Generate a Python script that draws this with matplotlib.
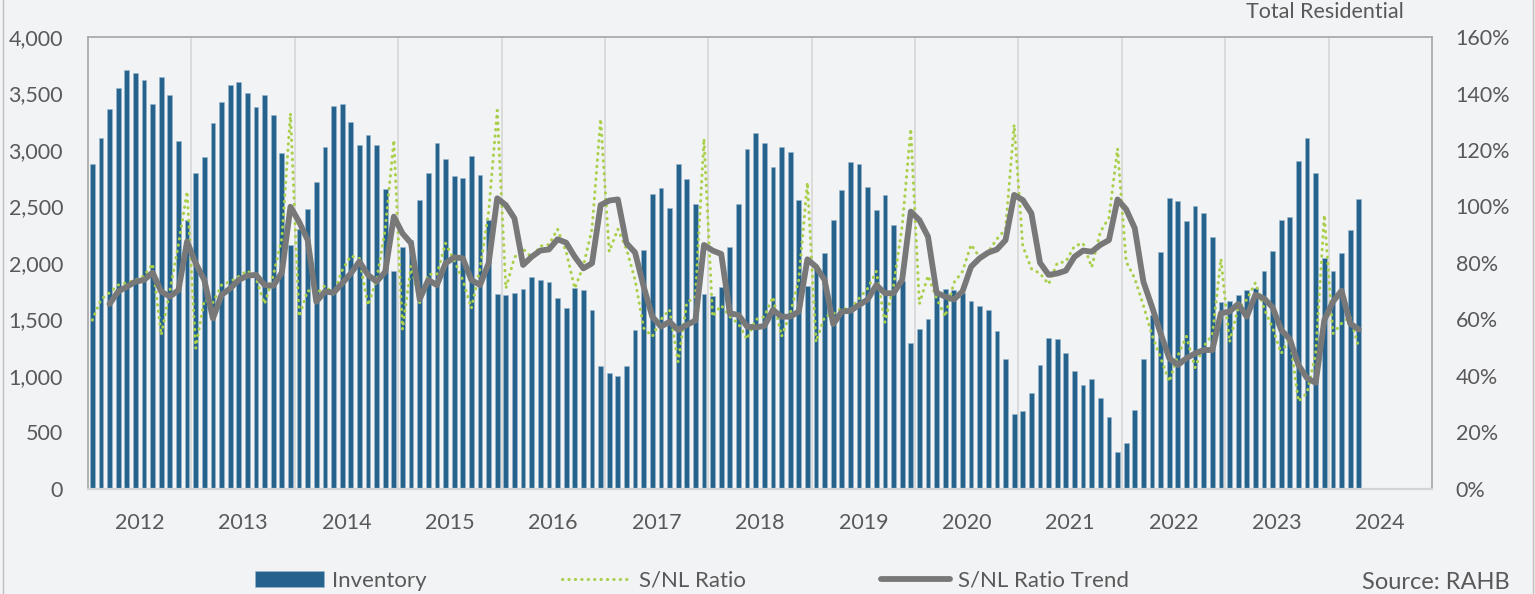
import numpy as np
import matplotlib
matplotlib.use("Agg")
import matplotlib.pyplot as plt
from matplotlib.lines import Line2D
from matplotlib.ticker import FuncFormatter

# Monthly inventory, Jan 2012 - Apr 2024
inventory = [
    2873, 3106, 3363, 3549, 3708, 3679, 3619, 3410, 3643, 3487, 3080, 2381,  # 2012
    2794, 2941, 3242, 3422, 3578, 3605, 3502, 3381, 3487, 3310, 2970, 2159,  # 2013
    2300, 2478, 2717, 3029, 3389, 3404, 3245, 3041, 3136, 3044, 2652, 1929,  # 2014
    2145, 2204, 2558, 2794, 3065, 2920, 2770, 2752, 2950, 2776, 2378, 1722,  # 2015
    1717, 1738, 1767, 1873, 1850, 1835, 1690, 1599, 1776, 1761, 1584, 1086,  # 2016
    1024, 997, 1088, 1410, 2118, 2608, 2661, 2484, 2876, 2741, 2522, 1726,   # 2017
    1711, 1790, 2139, 2519, 3006, 3153, 3059, 2852, 3027, 2982, 2558, 1796,  # 2018
    1982, 2088, 2383, 2643, 2894, 2876, 2670, 2466, 2602, 2336, 1840, 1292,  # 2019
    1416, 1504, 1750, 1770, 1764, 1732, 1664, 1622, 1584, 1401, 1150, 661,   # 2020
    693, 852, 1097, 1333, 1324, 1204, 1041, 920, 971, 802, 640, 330,         # 2021
    410, 696, 1150, 1540, 2100, 2572, 2549, 2372, 2507, 2442, 2227, 1655,    # 2022
    1664, 1714, 1761, 1776, 1926, 2103, 2378, 2404, 2900, 3106, 2794, 2041,  # 2023
    1932, 2085, 2289, 2563,                                                  # 2024
]

# Sales / new listings ratio (%)
snl_ratio = [
    59.8, 67.1, 69.5, 72.2, 73.0, 74.0, 75.4, 79.7, 54.5, 70.1, 86.6, 105.3,
    49.8, 66.9, 66.0, 72.2, 73.4, 75.2, 77.3, 74.6, 65.5, 75.6, 88.7, 133.0,
    61.0, 70.3, 69.0, 72.0, 69.0, 77.4, 82.5, 81.6, 65.0, 74.0, 92.0, 123.5,
    56.5, 79.0, 66.0, 76.0, 76.0, 87.0, 81.0, 74.0, 64.0, 78.0, 98.0, 134.0,
    71.0, 82.0, 85.0, 82.0, 86.0, 86.5, 92.0, 84.0, 71.0, 79.0, 92.0, 131.0,
    84.0, 92.0, 85.0, 74.0, 57.0, 54.0, 60.0, 63.5, 45.0, 66.0, 68.0, 124.0,
    61.0, 65.0, 61.0, 58.5, 53.0, 60.0, 61.0, 68.0, 54.0, 62.0, 74.0, 108.5,
    52.0, 61.0, 62.0, 64.0, 63.5, 67.5, 71.0, 77.0, 59.0, 72.0, 93.0, 127.5,
    65.5, 75.5, 67.5, 61.0, 73.0, 77.0, 86.5, 82.0, 84.0, 88.5, 92.0, 129.0,
    86.0, 78.0, 76.3, 72.5, 80.0, 80.5, 86.0, 87.0, 78.5, 91.0, 96.0, 120.5,
    80.5, 74.5, 65.0, 54.5, 46.5, 38.0, 47.2, 54.0, 43.0, 50.5, 54.5, 81.5,
    52.0, 64.0, 67.0, 73.0, 64.0, 57.0, 48.0, 53.5, 31.0, 34.0, 48.0, 97.0,
    55.0, 58.6, 61.0, 50.0,
]

# Trend of the ratio (%), first two months have no value
snl_trend = [
    np.nan, np.nan, 65.5, 69.9, 71.6, 73.4, 74.0, 76.6, 69.9, 68.1, 70.4, 87.6,
    79.9, 74.0, 60.4, 68.7, 71.0, 74.0, 75.5, 75.8, 72.2, 71.9, 76.6, 99.9,
    94.6, 88.1, 66.3, 69.9, 69.5, 72.8, 76.3, 80.5, 75.8, 73.4, 76.9, 96.4,
    90.5, 87.0, 67.2, 74.0, 72.2, 79.9, 82.0, 81.7, 74.0, 72.2, 79.9, 102.9,
    100.5, 95.8, 79.3, 82.2, 84.4, 84.8, 88.4, 87.2, 82.2, 78.1, 79.9, 100.5,
    102.1, 102.5, 87.0, 83.7, 71.6, 61.0, 57.5, 59.2, 56.3, 58.1, 59.6, 86.4,
    84.4, 83.2, 62.2, 61.6, 57.5, 57.2, 57.7, 63.4, 61.0, 61.0, 62.8, 81.3,
    78.7, 74.0, 58.4, 62.8, 63.1, 65.1, 67.1, 72.2, 69.3, 69.3, 74.0, 98.2,
    95.2, 89.3, 69.5, 68.1, 67.1, 69.9, 78.7, 81.7, 83.7, 84.8, 88.1, 104.1,
    102.3, 97.6, 80.1, 75.8, 76.3, 77.3, 82.2, 84.4, 84.0, 86.4, 88.1, 102.5,
    99.0, 92.3, 73.4, 64.5, 55.1, 46.3, 43.9, 46.3, 48.0, 49.2, 49.2, 62.2,
    62.8, 65.5, 61.0, 68.7, 67.5, 64.3, 56.3, 53.0, 43.9, 39.2, 37.6, 59.8,
    66.3, 70.2, 58.6, 56.5,
]

years = list(range(2012, 2025))

BG = "#F2F3F5"
TEXT = "#595959"
BAR = "#25628C"
GREEN = "#AACF4A"
GREY = "#787878"
FS = 15.5

plt.rcParams["font.family"] = ["Lato", "DejaVu Sans"]

fig = plt.figure(figsize=(15.35, 5.94), dpi=100, facecolor=BG)
ax = fig.add_axes([0.05733, 0.17677, 0.87557, 0.76094])
ax.set_facecolor(BG)

x = np.arange(len(inventory))
bars = ax.bar(x, inventory, width=0.55, color=BAR, edgecolor="#9DB8CF",
              linewidth=0.4, label="Inventory", zorder=2)

ax.set_xlim(-0.5, 12 * len(years) - 0.5)
ax.set_ylim(0, 4000)
ax.set_yticks(range(0, 4001, 500))
ax.yaxis.set_major_formatter(FuncFormatter(lambda v, p: f"{int(v):,}"))

# year labels in the middle of each year, grid lines at year boundaries
ax.set_xticks([12 * k + 5.5 for k in range(len(years))])
ax.set_xticklabels([str(y) for y in years])
ax.set_xticks([12 * k - 0.5 for k in range(1, len(years))], minor=True)
ax.grid(which="minor", axis="x", color="#D9D9D9", linewidth=1.3, zorder=0)
ax.set_axisbelow(True)
ax.tick_params(which="both", length=0)
ax.tick_params(axis="y", pad=18, labelsize=FS, labelcolor=TEXT)
ax.tick_params(axis="x", pad=17, labelsize=FS, labelcolor=TEXT)
for s in ax.spines.values():
    s.set_visible(False)

ax2 = ax.twinx()
ratio_line, = ax2.plot(x, np.array(snl_ratio) / 100, color=GREEN, linewidth=2.2,
                       linestyle=(0, (0.1, 2.0)), dash_capstyle="round",
                       label="S/NL Ratio")
trend_line, = ax2.plot(x, np.array(snl_trend) / 100, color=GREY, linewidth=4.2,
                       solid_capstyle="round", solid_joinstyle="round",
                       label="S/NL Ratio Trend")
ax2.set_ylim(0, 1.6)
ax2.set_yticks(np.arange(0, 1.61, 0.2))
ax2.yaxis.set_major_formatter(FuncFormatter(lambda v, p: f"{v * 100:.0f}%"))
ax2.tick_params(length=0, pad=17, labelsize=FS, labelcolor=TEXT)
for side in ("top", "left", "right"):
    ax2.spines[side].set_color("#A6A6A6")
    ax2.spines[side].set_linewidth(1.2)
ax2.spines["bottom"].set_color("#D4D4D4")
ax2.spines["bottom"].set_linewidth(1.6)

fig.legend(handles=[bars, ratio_line, trend_line], loc="center",
           bbox_to_anchor=(0.4510, 0.0220), ncol=3, frameon=False,
           fontsize=16, handlelength=3.1, handletextpad=0.35,
           columnspacing=6.1, labelcolor=TEXT)

fig.text(1510 / 1535, 0.019, "Source: RAHB", ha="right", va="center",
         fontsize=17, color=TEXT)
# chart title, kept just inside the top edge
fig.text(1325 / 1535, 1 - 2 / 594, "Total Residential", ha="center",
         va="top", fontsize=FS, color=TEXT)

# outer frame of the chart box
for fx in (2.5 / 1535, 1532.5 / 1535):
    fig.add_artist(Line2D([fx, fx], [0, 1], transform=fig.transFigure,
                          color="#BFBFBF", linewidth=1.0))

fig.savefig("out.png", dpi=100, facecolor=BG)
